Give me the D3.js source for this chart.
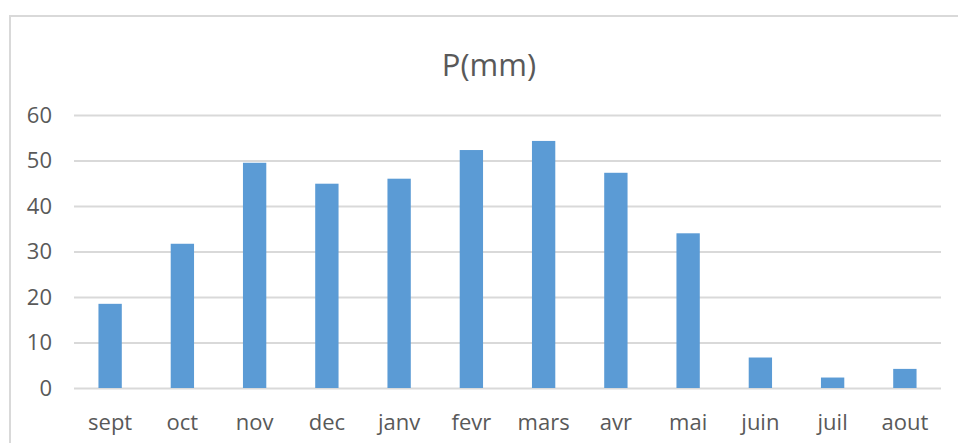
<!DOCTYPE html>
<html>
<head>
<meta charset="utf-8">
<script src="https://cdn.jsdelivr.net/npm/d3@7"></script>
<style>
  html, body { margin: 0; padding: 0; background: #fff; }
  svg { display: block; }
</style>
</head>
<body>
<div id="chart"></div>
<script>
// P(mm) par mois
const months = ["sept", "oct", "nov", "dec", "janv", "fevr", "mars", "avr", "mai", "juin", "juil", "aout"];
const precip = [18.5, 31.7, 49.5, 44.9, 46.0, 52.3, 54.3, 47.3, 34.0, 6.7, 2.3, 4.2];
const yTicks = [0, 10, 20, 30, 40, 50, 60];
const chartTitle = "P(mm)";

const width = 958, height = 443;
const margin = {top: 115, right: 17, bottom: 55, left: 74};

const svg = d3.select("#chart").append("svg")
	.attr("width", width)
	.attr("height", height);

// chart frame (light grey, runs past the right/bottom edge)
svg.append("rect")
	.attr("x", 10)
	.attr("y", 16)
	.attr("width", 1000)
	.attr("height", 500)
	.attr("fill", "none")
	.attr("stroke", "#d9d9d9")
	.attr("stroke-width", 2);

const x = d3.scaleBand()
	.domain(months)
	.range([margin.left, width - margin.right])
	.paddingInner(0.677)
	.paddingOuter(0.677 / 2);

const y = d3.scaleLinear()
	.domain([0, 60])
	.range([height - margin.bottom, margin.top]);

// gridlines
const yAxis = d3.axisLeft(y)
	.tickValues(yTicks)
	.tickSize(-(width - margin.right - margin.left))
	.tickPadding(22);

svg.append("g")
	.attr("transform", `translate(${margin.left},0)`)
	.call(yAxis)
	.call(g => g.select(".domain").remove())
	.call(g => g.selectAll(".tick line").attr("stroke", "#d9d9d9").attr("stroke-width", 2))
	.call(g => g.selectAll(".tick text")
		.attr("fill", "#595959")
		.style("font", "22px 'Open Sans', sans-serif"));

// bars
svg.append("g")
	.selectAll("rect")
	.data(precip)
	.join("rect")
	.attr("x", (d, i) => x(months[i]))
	.attr("y", d => y(d))
	.attr("width", x.bandwidth())
	.attr("height", d => y(0) - y(d))
	.attr("fill", "#5b9bd5");

// category labels
const xAxis = d3.axisBottom(x)
	.tickSize(0)
	.tickPadding(26);

svg.append("g")
	.attr("transform", `translate(0,${y(0)})`)
	.call(xAxis)
	.call(g => g.select(".domain").remove())
	.call(g => g.selectAll(".tick text")
		.attr("fill", "#595959")
		.style("font", "22px 'Open Sans', sans-serif"));

svg.append("text")
	.attr("x", 489)
	.attr("y", 76)
	.attr("text-anchor", "middle")
	.attr("fill", "#595959")
	.style("font", "31px 'Open Sans', sans-serif")
	.text(chartTitle);
</script>
</body>
</html>
